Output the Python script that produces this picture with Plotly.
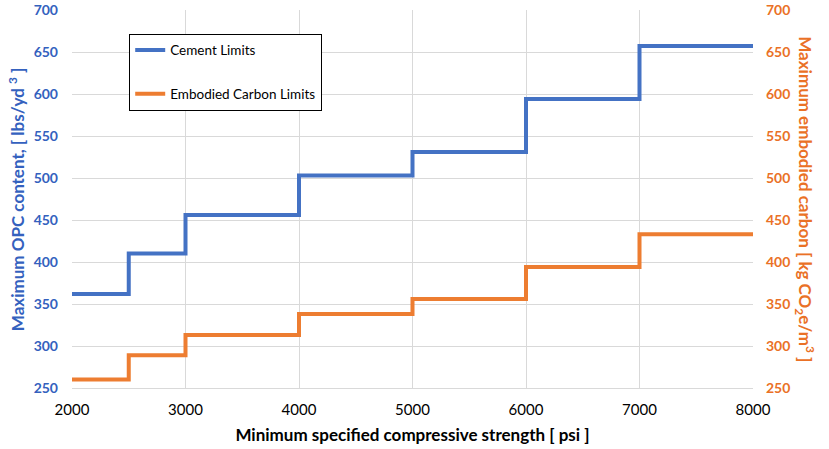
import plotly.graph_objects as go

# Données
strength_psi = [2000, 2500, 3000, 4000, 5000, 6000, 7000, 8000]
cement_limits = [362, 410, 456, 503, 531, 594, 657, 657]
carbon_limits = [260, 289, 313, 338, 356, 394, 433, 433]

x_ticks = [2000, 3000, 4000, 5000, 6000, 7000, 8000]
y_ticks = [250, 300, 350, 400, 450, 500, 550, 600, 650, 700]

BLUE = "#4472C4"
BLUE_TXT = "#3461BE"
ORANGE = "#ED7D31"
ORANGE_TXT = "#EA7126"
FONT = "Lato"

fig = go.Figure()

fig.add_trace(go.Scatter(
    x=strength_psi, y=cement_limits, mode="lines", line_shape="hv",
    line=dict(color=BLUE, width=4), name="Cement Limits",
    legendgroup="a", yaxis="y"
))
fig.add_trace(go.Scatter(
    x=strength_psi, y=carbon_limits, mode="lines", line_shape="hv",
    line=dict(color=ORANGE, width=4), name="Embodied Carbon Limits",
    legendgroup="b", yaxis="y2"
))

fig.update_layout(
    width=829, height=449,
    margin=dict(l=72, r=76, t=10, b=61, autoexpand=False),
    plot_bgcolor="white", paper_bgcolor="white",
    font=dict(family=FONT, size=13, color="black"),
    xaxis=dict(
        range=[2000, 8000], tickvals=x_ticks, automargin=False,
        showgrid=True, gridcolor="#D9D9D9", gridwidth=1,
        showline=True, linecolor="#D9D9D9", zeroline=False,
        ticks="", ticklabelstandoff=8, tickfont=dict(size=15, color="black"),
        title=dict(text="<b>Minimum specified compressive strength [ psi ]</b>",
                   font=dict(size=17, color="black"), standoff=12),
    ),
    yaxis=dict(
        range=[250, 700], tickvals=y_ticks, automargin=False,
        showgrid=True, gridcolor="#D9D9D9", gridwidth=1,
        zeroline=False, ticks="", showline=False, ticklabelstandoff=13,
        tickfont=dict(size=14, color=BLUE_TXT, weight="bold"),
    ),
    yaxis2=dict(
        range=[250, 700], tickvals=y_ticks, overlaying="y", side="right",
        showgrid=False, zeroline=False, ticks="", showline=False,
        automargin=False, ticklabelstandoff=12,
        tickfont=dict(size=14, color=ORANGE_TXT, weight="bold"),
    ),
    legend=dict(
        x=0.084, y=0.937, xanchor="left", yanchor="top",
        bgcolor="white", bordercolor="black", borderwidth=1,
        font=dict(size=13.5, color="black"),
        tracegroupgap=23, itemwidth=30,
    ),
    showlegend=True,
)

fig.add_annotation(
    text="<b>Maximum OPC content, [ lbs/yd <sup>3</sup> ]</b>",
    xref="paper", yref="paper", x=-0.082, y=0.5,
    xanchor="center", yanchor="middle", textangle=-90, showarrow=False,
    font=dict(size=17, color=BLUE_TXT, family=FONT),
)

fig.add_annotation(
    text="<b>Maximum embodied carbon [ kg CO<sub>2</sub>e/m<sup>3</sup> ]</b>",
    xref="paper", yref="paper", x=1.076, y=0.5,
    xanchor="center", yanchor="middle", textangle=90, showarrow=False,
    font=dict(size=17, color=ORANGE_TXT, family=FONT),
)

# pas de marge autour de la figure dans la page, pas de barre d'outils
fig.write_html("out.html", config={"displayModeBar": False},
               post_script="document.body.style.margin='0';")
